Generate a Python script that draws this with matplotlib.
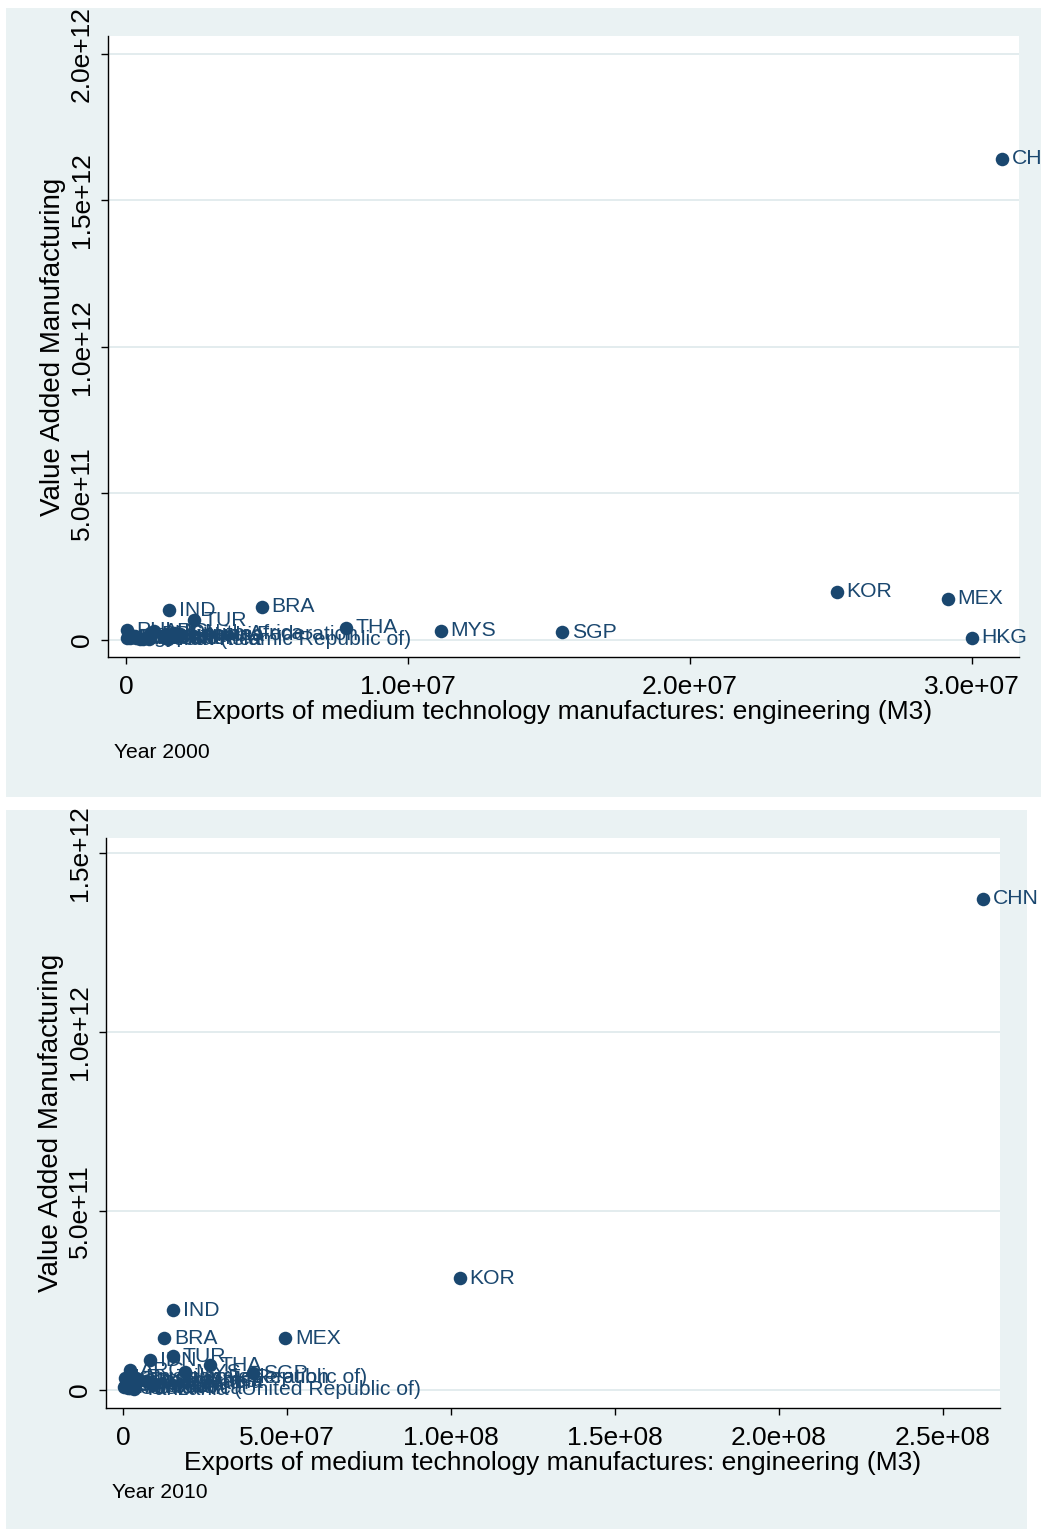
import matplotlib
matplotlib.use("Agg")
import matplotlib.pyplot as plt
from matplotlib.patches import Rectangle

plt.rcParams["font.family"] = ["Liberation Sans", "DejaVu Sans"]

navy = "#1a476f"
bg = "#eaf2f3"

# ---- Year 2000: exports M3 (x) vs value added manufacturing (y)
names_2000 = ["CHN", "KOR", "MEX", "HKG", "SGP", "MYS", "THA", "BRA", "IND", "TUR",
              "PHL", "ARG", "IDN", "Iran (Islamic Republic of)", "Philippines",
              "South Africa", "Russian Federation", "Saudi Arabia", "Colombia",
              "Chile", "Egypt", "Pakistan",
              "Tunisia", "Costa Rica", "Morocco", "Viet Nam", "Peru"]
x_2000 = [3.106e7, 2.521e7, 2.915e7, 3.0e7, 1.546e7, 1.117e7, 7.8e6, 4.82e6, 1.52e6, 2.41e6,
          2.0e4, 1.0e6, 1.7e6, 1.5e6, 9.0e5,
          1.9e6, 1.4e6, 3.0e5, 2.5e5,
          2.0e5, 1.5e5, 1.0e5,
          6.0e5, 8.0e5, 3.5e5, 5.0e5, 5.0e4]
y_2000 = [1.642e12, 1.64e11, 1.40e11, 7.0e9, 2.7e10, 3.1e10, 4.1e10, 1.13e11, 1.02e11, 6.8e10,
          3.4e10, 3.0e10, 2.5e10, 3.0e9, 1.8e10,
          2.2e10, 2.0e10, 1.4e10, 1.2e10,
          1.0e10, 8.0e9, 9.0e9,
          4.0e9, 3.0e9, 6.0e9, 5.0e9, 7.0e9]

# ---- Year 2010
names_2010 = ["CHN", "KOR", "IND", "BRA", "MEX", "TUR", "IDN", "THA", "MYS", "SGP",
              "ARG", "Iran (Islamic Republic of)", "Philippines", "South Africa",
              "Russian Federation", "Saudi Arabia", "Colombia",
              "Tanzania (United Republic of)", "Chile", "Egypt", "Pakistan",
              "Tunisia", "Costa Rica", "Morocco", "Viet Nam", "Peru"]
x_2010 = [2.622e8, 1.027e8, 1.52e7, 1.25e7, 4.94e7, 1.52e7, 8.2e6, 2.65e7, 1.9e7, 3.96e7,
          2.1e6, 5.0e5, 7.0e6, 5.0e6,
          4.0e6, 3.0e6, 1.0e6,
          3.4e6, 8.0e5, 1.2e6, 5.0e5,
          3.0e6, 2.0e6, 1.5e6, 9.0e6, 4.0e5]
y_2010 = [1.372e12, 3.13e11, 2.23e11, 1.45e11, 1.45e11, 9.5e10, 8.4e10, 7.0e10, 5.0e10, 4.7e10,
          5.6e10, 3.4e10, 2.5e10, 2.8e10,
          3.5e10, 2.0e10, 1.5e10,
          2.0e9, 1.2e10, 1.6e10, 1.1e10,
          6.0e9, 5.0e9, 7.0e9, 1.8e10, 9.0e9]

W, H = 1041, 1529
fig = plt.figure(figsize=(W / 100, H / 100), dpi=100)
fig.patch.set_facecolor("white")

def px(x0, y0, x1, y1):
    # pixel box (top-left origin) -> figure fraction rect
    return [x0 / W, 1 - y1 / H, (x1 - x0) / W, (y1 - y0) / H]

# outer panel backgrounds
for (x0, y0, x1, y1) in [(6, 8, 1045, 797), (6, 810, 1027, 1535)]:
    fig.patches.append(Rectangle((x0 / W, 1 - y1 / H), (x1 - x0) / W, (y1 - y0) / H,
                                 transform=fig.transFigure, facecolor=bg,
                                 edgecolor="none", zorder=-10))

def panel(box, xs, ys, labels, xlim, ylim, xticks, xticklabels, yticks, yticklabels, note, note_xy):
    ax = fig.add_axes(px(*box))
    ax.set_facecolor("white")
    ax.set_xlim(*xlim)
    ax.set_ylim(*ylim)
    for s in ["top", "right"]:
        ax.spines[s].set_visible(False)
    for s in ["left", "bottom"]:
        ax.spines[s].set_linewidth(1.0)
    ax.set_xticks(xticks)
    ax.set_xticklabels(xticklabels, fontsize=19)
    ax.set_yticks(yticks)
    ax.set_yticklabels(yticklabels, fontsize=19, rotation=90, va="center")
    ax.tick_params(axis="both", length=5, width=1.0)
    ax.tick_params(axis="x", pad=8)
    ax.tick_params(axis="y", pad=5)
    ax.grid(axis="y", color="#e3ecee", linewidth=1.4)
    ax.set_axisbelow(True)
    ax.scatter(xs, ys, s=95, color=navy, zorder=3, clip_on=False, linewidths=0)
    for n, x, y in zip(labels, xs, ys):
        ax.annotate(n, (x, y), xytext=(7, 0), textcoords="offset points",
                    va="center", ha="left", fontsize=15.2, color=navy,
                    annotation_clip=False, zorder=4)
    ax.set_xlabel("Exports of medium technology manufactures: engineering (M3)",
                  fontsize=19, labelpad=1)
    ax.set_ylabel("Value Added Manufacturing", fontsize=20, labelpad=3)
    fig.text(note_xy[0] / W, 1 - note_xy[1] / H, note, fontsize=15.2,
             ha="left", va="center")
    return ax

panel((108, 36, 1019, 657), x_2000, y_2000, names_2000,
      (-6.4e5, 3.167e7), (-5.8e10, 2.06e12),
      [0, 1e7, 2e7, 3e7], ["0", "1.0e+07", "2.0e+07", "3.0e+07"],
      [0, 5e11, 1e12, 1.5e12, 2e12], ["0", "5.0e+11", "1.0e+12", "1.5e+12", "2.0e+12"],
      "Year 2000", (114, 752))

panel((106, 838, 1000, 1408), x_2010, y_2010, names_2010,
      (-5.2e6, 2.674e8), (-5.0e10, 1.542e12),
      [0, 5e7, 1e8, 1.5e8, 2e8, 2.5e8],
      ["0", "5.0e+07", "1.0e+08", "1.5e+08", "2.0e+08", "2.5e+08"],
      [0, 5e11, 1e12, 1.5e12], ["0", "5.0e+11", "1.0e+12", "1.5e+12"],
      "Year 2010", (112, 1493))

fig.savefig("out.png", dpi=100)
